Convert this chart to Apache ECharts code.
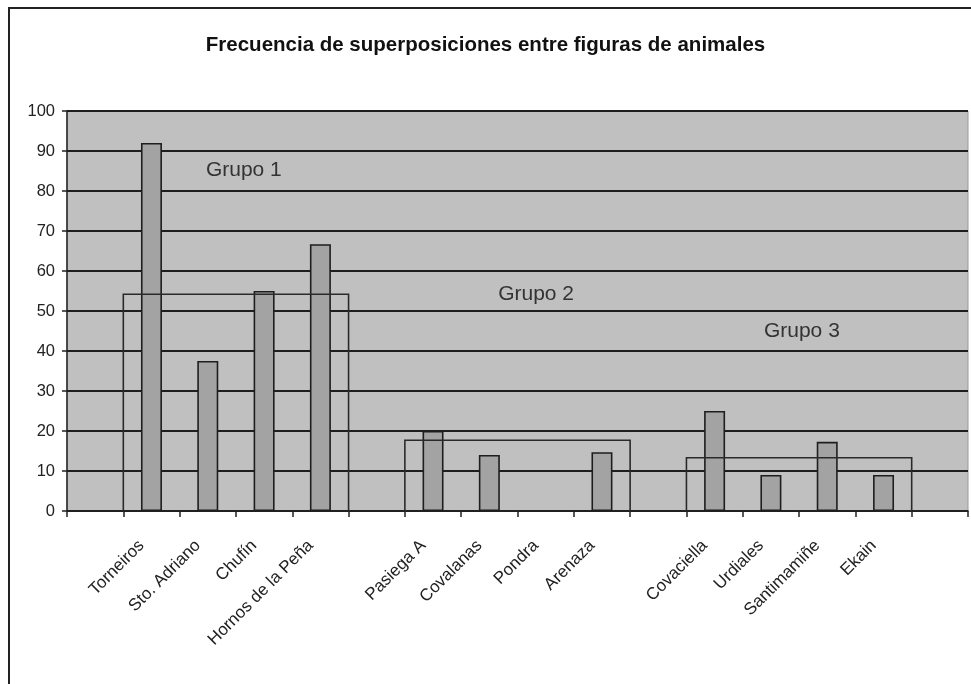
<!DOCTYPE html>
<html>
<head>
<meta charset="utf-8">
<script src="https://cdn.jsdelivr.net/npm/echarts@6/dist/echarts.min.js"></script>
<style>
  html, body { margin: 0; padding: 0; background: #fff; }
  #chart { width: 971px; height: 684px; }
</style>
</head>
<body>
<div id="chart"></div>
<script>
// empty slots separate the three groups
const cuevas = ['', 'Torneiros', 'Sto. Adriano', 'Chufín', 'Hornos de la Peña', '',
  'Pasiega A', 'Covalanas', 'Pondra', 'Arenaza', '',
  'Covaciella', 'Urdiales', 'Santimamiñe', 'Ekain', ''];
const frecuencia = [null, 92, 37.5, 55, 66.7, null,
  20, 14, null, 14.7, null,
  25, 9, 17.3, 9, null];

const yTicks = [0, 10, 20, 30, 40, 50, 60, 70, 80, 90, 100];

// groups: first category, last category, level of the bracket
const grupoNombres = ['Grupo 1', 'Grupo 2', 'Grupo 3'];
const grupoInicio = [1, 6, 11];
const grupoFin = [4, 9, 14];
const grupoNivel = [54.2, 17.7, 13.3];
// where the group name sits (category position, value)
const grupoTextoX = [2.64, 7.83, 12.55];
const grupoTextoY = [85.3, 54.3, 45];

const font = 'Liberation Sans, Arial, sans-serif';

let bracketData = [];
for (let i = 0; i < grupoNombres.length; i++) {
  bracketData.push([grupoInicio[i], grupoFin[i], grupoNivel[i], grupoTextoX[i], grupoTextoY[i]]);
}

function renderBracket(params, api) {
  const band = api.size([1, 0])[0];
  const a = api.coord([api.value(0), 0]);
  const b = api.coord([api.value(1), api.value(2)]);
  const x0 = a[0] - band / 2;
  const x1 = b[0] + band / 2;
  const yb = a[1];
  const yt = b[1];
  // category axis rounds fractional positions, so interpolate by hand
  const tx = api.value(3);
  const base = Math.floor(tx);
  const p = api.coord([base, api.value(4)]);
  const textX = p[0] + (tx - base) * band;
  const lineStyle = { stroke: '#2a2a2a', lineWidth: 1.6, fill: null };
  return {
    type: 'group',
    children: [
      { type: 'polyline', shape: { points: [[x0, yb], [x0, yt], [x1, yt], [x1, yb]] }, style: lineStyle },
      { type: 'text', x: textX, y: p[1], style: {
        text: grupoNombres[params.dataIndex], fill: '#333', font: '21px ' + font,
        align: 'center', verticalAlign: 'middle' } }
    ]
  };
}

const chart = echarts.init(document.getElementById('chart'), null, { renderer: 'canvas' });
const option = {
  animation: false,
  backgroundColor: '#fff',
  title: {
    text: 'Frecuencia de superposiciones entre figuras de animales',
    left: 'center',
    top: 30,
    textStyle: { fontFamily: font, fontSize: 20.5, fontWeight: 'bold', color: '#111' }
  },
  graphic: [{
    type: 'rect',
    shape: { x: 9, y: 8, width: 990, height: 700 },
    style: { fill: null, stroke: '#222', lineWidth: 2 },
    silent: true
  }],
  grid: {
    left: 67, right: 3, top: 111, bottom: 173,
    show: true, backgroundColor: '#c0c0c0', borderColor: '#9a9a9a', borderWidth: 1
  },
  xAxis: {
    type: 'category',
    data: cuevas,
    boundaryGap: true,
    axisLine: { lineStyle: { color: '#222', width: 1.5 } },
    axisTick: { show: true, alignWithLabel: false, interval: 0, length: 6, lineStyle: { color: '#222', width: 1.5 } },
    axisLabel: {
      interval: 0, rotate: 45, margin: 22, padding: [0, 14, 0, 0],
      fontFamily: font, fontSize: 17, color: '#222'
    }
  },
  yAxis: {
    type: 'value',
    min: 0, max: 100, interval: 10,
    axisLine: { show: true, lineStyle: { color: '#222', width: 1.5 } },
    axisTick: { show: true, length: 5, lineStyle: { color: '#222', width: 1.5 } },
    axisLabel: {
      fontFamily: font, fontSize: 16.5, color: '#222', margin: 12,
      formatter: function (v) { return yTicks.indexOf(v) >= 0 ? String(v) : ''; }
    },
    splitLine: { show: true, lineStyle: { color: '#1e1e1e', width: 2 } }
  },
  series: [
    {
      type: 'bar',
      data: frecuencia,
      barWidth: 21,
      itemStyle: { color: '#a3a3a3', borderColor: '#1e1e1e', borderWidth: 1.6 },
      z: 2
    },
    {
      type: 'custom',
      renderItem: renderBracket,
      data: bracketData,
      encode: { x: [0, 1, 3], y: [2, 4] },
      z: 5
    }
  ]
};
chart.setOption(option);
</script>
</body>
</html>
